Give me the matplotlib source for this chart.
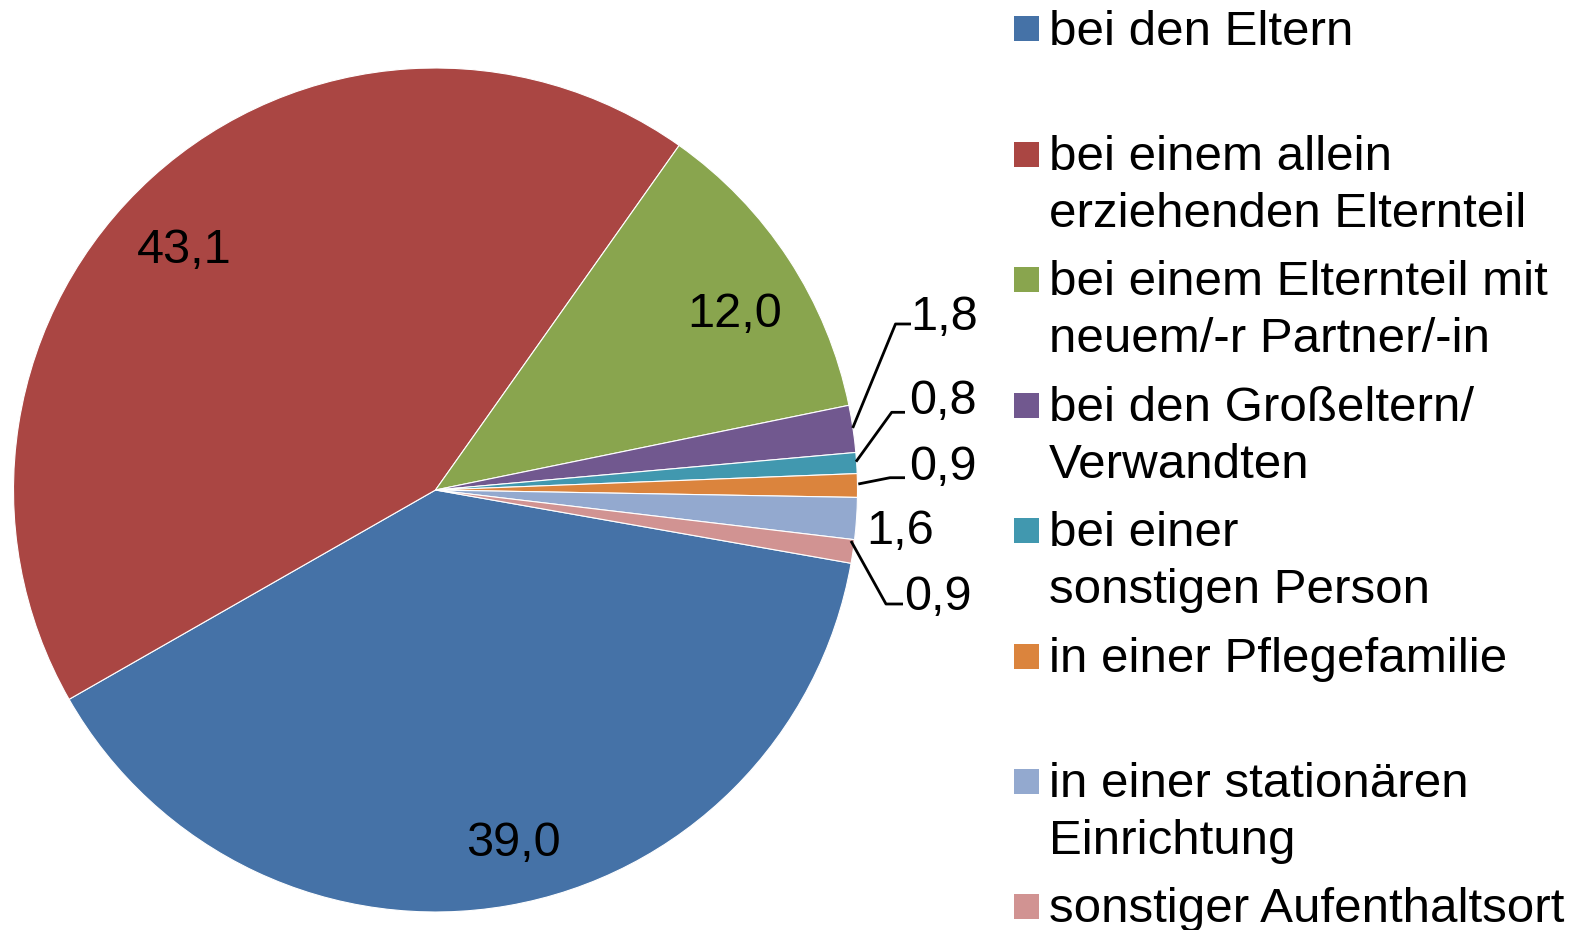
import matplotlib
matplotlib.use('Agg')
import matplotlib.pyplot as plt
from matplotlib.patches import Rectangle

# Daten
kategorien = [
    ['bei den Eltern'],
    ['bei einem allein', 'erziehenden Elternteil'],
    ['bei einem Elternteil mit', 'neuem/-r Partner/-in'],
    ['bei den Großeltern/', 'Verwandten'],
    ['bei einer', 'sonstigen Person'],
    ['in einer Pflegefamilie'],
    ['in einer stationären', 'Einrichtung'],
    ['sonstiger Aufenthaltsort'],
]
werte = [39.0, 43.1, 12.0, 1.8, 0.8, 0.9, 1.6, 0.9]
farben = ['#4572A7', '#AA4643', '#89A54E', '#71588F',
          '#4198AF', '#DB843D', '#93A9CF', '#D19392']

plt.rcParams['font.family'] = ['Liberation Sans', 'DejaVu Sans']
FS = 35
FS_LEG = 35.5

W, H = 1578, 930
fig = plt.figure(figsize=(W / 100, H / 100), dpi=100)
ax = fig.add_axes([0, 0, 1, 1])

# Kreis in Pixelkoordinaten (y nach oben)
cx, cy, r = 435.5, H - 490, 422
ax.pie(werte, colors=farben, startangle=-10, counterclock=False,
       center=(cx, cy), radius=r,
       wedgeprops=dict(edgecolor='white', linewidth=0.8))
ax.set_xlim(0, W)
ax.set_ylim(0, H)
ax.axis('off')

def txt(v):
    return f"{v:.1f}".replace('.', ',')

# Beschriftungen in den großen Segmenten (x, Grundlinie im Bild)
innen = {0: (513.5, 855.5), 1: (184, 263), 2: (734.7, 327)}
for i, (x, y) in innen.items():
    ax.text(x, H - y, txt(werte[i]), fontsize=FS, ha='center', va='baseline')

# kleine Segmente mit Führungslinien
aussen = {3: (910.5, 330), 4: (909, 413.5), 5: (909, 480), 6: (866, 544.5), 7: (904, 610)}
linien = {
    3: [(852.7, 428), (895.5, 324), (911, 324)],
    4: [(856, 461.7), (891.7, 412.3), (905, 412.3)],
    5: [(858.3, 484), (890, 477.7), (905, 477.7)],
    7: [(851, 541), (886, 604), (903, 604)],
}
for i, (x, y) in aussen.items():
    ax.text(x, H - y, txt(werte[i]), fontsize=FS, ha='left', va='baseline')
for i, pts in linien.items():
    ax.plot([p[0] for p in pts], [H - p[1] for p in pts], color='black', lw=2.0,
            solid_capstyle='butt')

# Legende
for i, zeilen in enumerate(kategorien):
    mitte = 29 + i * 125.4
    ax.add_patch(Rectangle((1014, H - mitte - 12.5), 25, 25, color=farben[i], lw=0))
    for j, z in enumerate(zeilen):
        ax.text(1049, H - (mitte + 15.6 + j * 56.7), z, fontsize=FS_LEG,
                ha='left', va='baseline')

fig.savefig('out.png', dpi=100)
